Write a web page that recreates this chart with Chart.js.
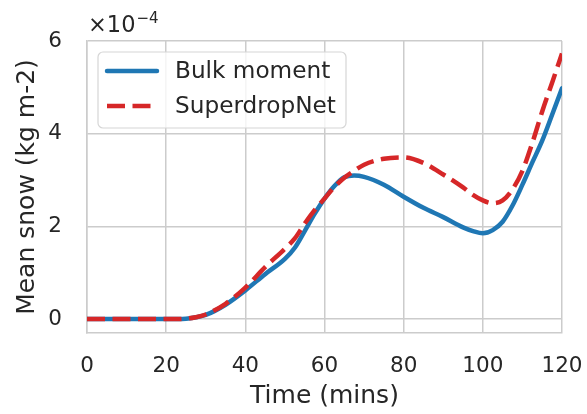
<!DOCTYPE html>
<html lang="en">
<head>
<meta charset="UTF-8">
<title>Mean snow</title>
<style>
    body { margin: 0; background: #ffffff; }
    canvas { display: block; }
</style>
</head>
<body>
<canvas id="snowChart" width="587" height="414"></canvas>
<script src="https://cdn.jsdelivr.net/npm/chart.js"></script>
<script>
// time axis (mins) and mean snow for both schemes, in units of 1e-4 kg m-2
const times = [0, 5, 10, 15, 20, 25, 27.5, 30, 35, 40, 45, 50, 52.5, 55, 57.5, 60, 62.5, 65, 67.5, 70,
               75, 80, 85, 90, 95, 97.5, 100, 102.5, 105, 107.5, 110, 112.5, 115, 117.5, 120];
const bulkMoment = [0, 0, 0, 0, 0, 0.01, 0.04, 0.09, 0.31, 0.62, 0.97, 1.3, 1.54, 1.9, 2.27, 2.6, 2.87, 3.06, 3.1, 3.07,
                    2.9, 2.64, 2.4, 2.2, 1.98, 1.9, 1.85, 1.92, 2.1, 2.45, 2.9, 3.38, 3.85, 4.41, 4.98];
const superdropNet = [0, 0, 0, 0, 0, 0.01, 0.04, 0.1, 0.33, 0.68, 1.12, 1.52, 1.74, 2.06, 2.35, 2.6, 2.85, 3.05, 3.2, 3.33,
                      3.46, 3.49, 3.37, 3.12, 2.84, 2.68, 2.56, 2.5, 2.56, 2.8, 3.2, 3.8, 4.48, 5.1, 5.73];
const xTicks = [0, 20, 40, 60, 80, 100, 120];
const yTicks = [0, 2, 4, 6];

const textColor = '#262626';
const gridColor = '#cccccc';
const fontFamily = "'DejaVu Sans', sans-serif";

function points(ys) {
    return times.map((t, i) => ({ x: t, y: ys[i] }));
}

// the "x10^-4" multiplier above the y axis
const offsetText = {
    id: 'offsetText',
    afterDraw(chart) {
        const ctx = chart.ctx;
        const a = chart.chartArea;
        ctx.save();
        ctx.fillStyle = textColor;
        ctx.textBaseline = 'alphabetic';
        ctx.textAlign = 'left';
        ctx.font = '22.5px ' + fontFamily;
        const base = '×10';
        ctx.fillText(base, a.left + 1, 32);
        const w = ctx.measureText(base).width;
        ctx.font = '15px ' + fontFamily;
        ctx.fillText('−4', a.left + 1 + w + 1, 23);
        ctx.restore();
    }
};

// boxed legend in the upper left corner of the plot
const legendBox = {
    id: 'legendBox',
    afterDraw(chart) {
        const ctx = chart.ctx;
        const a = chart.chartArea;
        const x = a.left + 11, y = a.top + 11, w = 248, h = 76;
        ctx.save();
        ctx.beginPath();
        ctx.roundRect(x, y, w, h, 5);
        ctx.fillStyle = 'rgba(255,255,255,0.8)';
        ctx.fill();
        ctx.strokeStyle = '#d6d6d6';
        ctx.lineWidth = 1.2;
        ctx.stroke();

        ctx.font = '23.2px ' + fontFamily;
        ctx.textBaseline = 'middle';
        ctx.textAlign = 'left';
        chart.data.datasets.forEach((ds, i) => {
            const ly = y + 19 + i * 35;
            ctx.beginPath();
            ctx.setLineDash(ds.borderDash || []);
            ctx.lineCap = ds.borderDash ? 'butt' : 'round';
            ctx.strokeStyle = ds.borderColor;
            ctx.lineWidth = ds.borderWidth;
            ctx.moveTo(x + 9, ly);
            ctx.lineTo(x + 59, ly);
            ctx.stroke();
            ctx.setLineDash([]);
            ctx.fillStyle = textColor;
            ctx.fillText(ds.label, x + 77, ly + 1);
        });
        ctx.restore();
    }
};

const ctx = document.getElementById('snowChart').getContext('2d');
new Chart(ctx, {
    type: 'line',
    data: {
        datasets: [{
            label: 'Bulk moment',
            data: points(bulkMoment),
            borderColor: '#1f77b4',
            borderWidth: 4.5,
            borderCapStyle: 'round',
            cubicInterpolationMode: 'monotone',
            pointRadius: 0,
            order: 1
        }, {
            label: 'SuperdropNet',
            data: points(superdropNet),
            borderColor: '#d62728',
            borderWidth: 4.5,
            borderDash: [18, 7.5],
            cubicInterpolationMode: 'monotone',
            pointRadius: 0,
            order: 0
        }]
    },
    options: {
        responsive: false,
        animation: false,
        devicePixelRatio: 1,
        layout: { padding: { top: 41, right: 25, left: 0, bottom: 0 } },
        plugins: { legend: { display: false }, tooltip: { enabled: false } },
        scales: {
            x: {
                type: 'linear',
                min: 0,
                max: 120,
                afterBuildTicks: axis => { axis.ticks = xTicks.map(v => ({ value: v })); },
                afterFit: axis => { axis.height = 81; axis.paddingLeft = 0; axis.paddingRight = 0; },
                grid: { color: gridColor, lineWidth: 1.5, drawTicks: false },
                border: { color: gridColor, width: 1.5 },
                ticks: { color: textColor, padding: 21, font: { family: fontFamily, size: 21.5 } },
                title: {
                    display: true,
                    text: 'Time (mins)',
                    color: textColor,
                    font: { family: fontFamily, size: 25 },
                    padding: { top: 0, bottom: 3 }
                }
            },
            y: {
                type: 'linear',
                min: -0.3,
                max: 6,
                afterBuildTicks: axis => { axis.ticks = yTicks.map(v => ({ value: v })); },
                afterFit: axis => { axis.width = 87; axis.paddingTop = 0; axis.paddingBottom = 0; },
                grid: { color: gridColor, lineWidth: 1.5, drawTicks: false },
                border: { color: gridColor, width: 1.5 },
                ticks: { color: textColor, padding: 25, font: { family: fontFamily, size: 21.5 } },
                title: {
                    display: true,
                    text: 'Mean snow (kg m-2)',
                    color: textColor,
                    font: { family: fontFamily, size: 25 },
                    padding: { top: 12, bottom: 0 }
                }
            }
        }
    },
    plugins: [legendBox, offsetText]
});
</script>
</body>
</html>
